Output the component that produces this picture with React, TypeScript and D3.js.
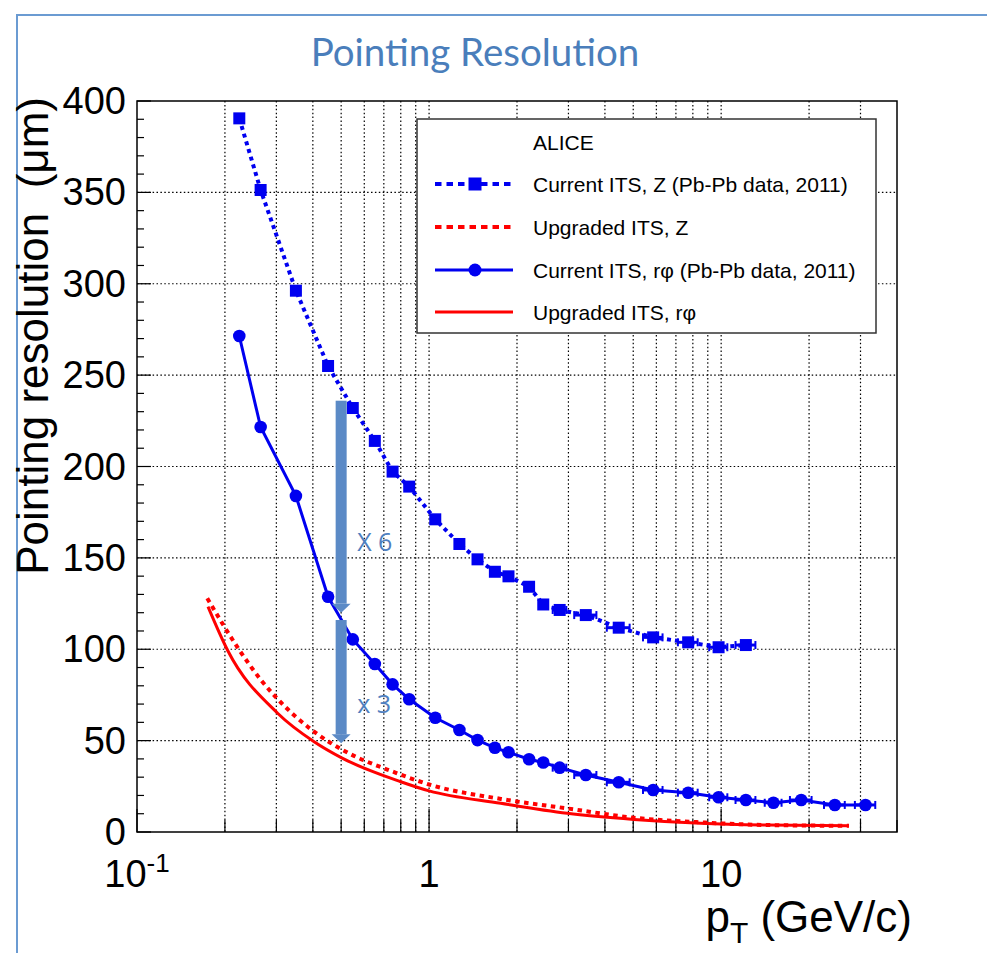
import React from "react";
import * as d3 from "d3";

const width = 987;
const height = 953;
const frame = { left: 137, right: 897, top: 101, bottom: 832 };

// pT bin centres (GeV/c)
const ptBins = [
  0.224, 0.265, 0.35, 0.451, 0.548, 0.652, 0.75, 0.855, 1.05, 1.27, 1.465,
  1.68, 1.87, 2.2, 2.46, 2.8, 3.44, 4.46, 5.85, 7.71, 9.8, 12.15, 15.1, 18.8,
  24.5, 31.2,
];
// horizontal half widths of the error bars (GeV/c)
const ptErr = [
  0, 0, 0, 0, 0, 0, 0, 0, 0, 0, 0, 0, 0, 0, 0.08, 0.15, 0.3, 0.4, 0.45, 0.6,
  0.7, 0.95, 1.0, 1.6, 2.0, 2.5,
];
// current ITS, z (Pb-Pb 2011)
const currentZ = [
  390.5, 351.3, 296.2, 255, 232, 214, 197.2, 189, 171.1, 157.6, 149.2, 142.4,
  139.9, 134.2, 124.5, 121.5, 118.7, 111.8, 106.5, 103.8, 101.1, 102.3,
];
// current ITS, r-phi (Pb-Pb 2011)
const currentRphi = [
  271.4, 221.6, 183.9, 128.7, 105.4, 91.9, 80.8, 72.6, 62.5, 55.8, 50.3, 46.1,
  43.6, 39.8, 38.0, 35.2, 31.2, 27.2, 23.0, 21.5, 19.0, 17.5, 16.0, 17.5, 14.8,
  14.8,
];

// upgraded ITS curves
const upgradedZPt = [
  0.174, 0.224, 0.266, 0.3, 0.404, 0.506, 0.77, 1.0, 1.76, 2.97, 5.03, 8.5,
  14.4, 27.4,
];
const upgradedZ = [
  127.9, 99.6, 83.1, 73.5, 54.9, 44.9, 32.4, 26, 18.1, 12.9, 7.8, 5.3, 3.8,
  3.4,
];
const upgradedRphiPt = [
  0.175, 0.204, 0.303, 0.404, 0.506, 0.8, 1.0, 1.76, 2.97, 5.03, 8.5, 14.4,
  27.4,
];
const upgradedRphi = [
  123.3, 99.6, 65, 49.4, 40.3, 27.5, 22.5, 15.7, 10.2, 6.9, 4.8, 3.8, 3.4,
];

const yTickValues = d3.range(0, 401, 10);
const yLabels = [0, 50, 100, 150, 200, 250, 300, 350, 400];

const arrowPt = 0.5;
const arrowFrom = [236, 116];
const arrowTo = [120, 48.5];
const arrowLabels = ["X 6", "x 3"];
const arrowLabelAt = [153.5, 65];

const legendEntries = [
  "Current ITS, Z (Pb-Pb data, 2011)",
  "Upgraded ITS, Z",
  "Current ITS, r\u03c6 (Pb-Pb data, 2011)",
  "Upgraded ITS, r\u03c6",
];

const blue = "#0000f0";
const red = "#ff0000";
const arrowBlue = "#5b8ac6";
const font = "'Liberation Sans', Arial, Helvetica, sans-serif";

export default function App() {
  const x = d3
    .scaleLog()
    .domain([0.1, 40])
    .range([frame.left, frame.right]);
  const y = d3
    .scaleLinear()
    .domain([0, 400])
    .range([frame.bottom, frame.top]);

  const xTicks = x.ticks();
  const isDecade = (v: number) =>
    Math.abs(Math.log10(v) - Math.round(Math.log10(v))) < 1e-6;

  const pointLine = d3
    .line<[number, number]>()
    .x((d) => x(d[0]))
    .y((d) => y(d[1]));
  const smoothLine = d3
    .line<[number, number]>()
    .x((d) => x(d[0]))
    .y((d) => y(d[1]))
    .curve(d3.curveMonotoneX);

  const zPts: [number, number][] = currentZ.map((v, i) => [ptBins[i], v]);
  const rPts: [number, number][] = currentRphi.map((v, i) => [ptBins[i], v]);
  const upZ: [number, number][] = upgradedZ.map((v, i) => [upgradedZPt[i], v]);
  const upR: [number, number][] = upgradedRphi.map((v, i) => [
    upgradedRphiPt[i],
    v,
  ]);

  const errBars = (pts: [number, number][]) =>
    pts.map((d, i) =>
      ptErr[i] > 0 ? (
        <g key={"e" + i}>
          <line
            x1={x(d[0] - ptErr[i])}
            x2={x(d[0] + ptErr[i])}
            y1={y(d[1])}
            y2={y(d[1])}
            stroke={blue}
            strokeWidth={3}
          />
          <line
            x1={x(d[0] - ptErr[i])}
            x2={x(d[0] - ptErr[i])}
            y1={y(d[1]) - 4}
            y2={y(d[1]) + 4}
            stroke={blue}
            strokeWidth={2}
          />
          <line
            x1={x(d[0] + ptErr[i])}
            x2={x(d[0] + ptErr[i])}
            y1={y(d[1]) - 4}
            y2={y(d[1]) + 4}
            stroke={blue}
            strokeWidth={2}
          />
        </g>
      ) : null
    );

  const legendX1 = 435;
  const legendX2 = 513;
  const legendMid = 475;
  const legendRowY = [184, 227, 270, 312];

  return (
    <svg
      width={width}
      height={height}
      style={{ position: "absolute", left: 0, top: 0, background: "#fff" }}
      fontFamily={font}
    >
      <rect x={17} y={15} width={1000} height={1000} fill="none" stroke="#6b9bd2" strokeWidth={2} />

      <text
        x={475}
        y={66}
        textAnchor="middle"
        fontFamily="Lato, 'Open Sans', sans-serif"
        fontWeight={400}
        fontSize={38.5}
        fill="#4a7ebb"
      >
        Pointing Resolution
      </text>

      {/* grid */}
      <g stroke="#000" strokeWidth={1.2} strokeDasharray="1.5,2.4">
        {xTicks
          .filter((v) => v > 0.1 && v < 40)
          .map((v, i) => (
            <line key={"gx" + i} x1={x(v)} x2={x(v)} y1={frame.top} y2={frame.bottom} />
          ))}
        {yLabels
          .filter((v) => v > 0 && v < 400)
          .map((v) => (
            <line key={"gy" + v} x1={frame.left} x2={frame.right} y1={y(v)} y2={y(v)} />
          ))}
      </g>

      {/* ticks */}
      <g stroke="#000" strokeWidth={1.2}>
        {xTicks.map((v, i) => (
          <line
            key={"tx" + i}
            x1={x(v)}
            x2={x(v)}
            y1={frame.bottom}
            y2={frame.bottom - (isDecade(v) ? 23 : 12)}
          />
        ))}
        {yTickValues.map((v) => (
          <line
            key={"ty" + v}
            x1={frame.left}
            x2={frame.left + (v % 50 === 0 ? 14 : 7)}
            y1={y(v)}
            y2={y(v)}
          />
        ))}
      </g>

      {/* y labels */}
      {yLabels.map((v) => (
        <text key={"yl" + v} x={126} y={y(v) + 13} textAnchor="end" fontSize={38} fill="#000">
          {v}
        </text>
      ))}

      {/* x labels */}
      <text x={x(0.1)} y={887} textAnchor="middle" fontSize={38}>
        10
        <tspan fontSize={26} dy={-15}>
          -1
        </tspan>
      </text>
      <text x={x(1)} y={887} textAnchor="middle" fontSize={38}>
        1
      </text>
      <text x={x(10)} y={887} textAnchor="middle" fontSize={38}>
        10
      </text>

      {/* axis titles */}
      <text x={912} y={932} textAnchor="end" fontSize={44}>
        p
        <tspan fontSize={30} dy={11}>
          T
        </tspan>
        <tspan dy={-11}> (GeV/c)</tspan>
      </text>
      <text
        transform="translate(48,97) rotate(-90)"
        textAnchor="end"
        fontSize={44}
        xmlSpace="preserve"
      >
        Pointing resolution  ({"\u03bc"}m)
      </text>

      {/* upgraded curves */}
      <path d={smoothLine(upR) || ""} fill="none" stroke={red} strokeWidth={3} />
      <path
        d={smoothLine(upZ) || ""}
        fill="none"
        stroke={red}
        strokeWidth={4}
        strokeDasharray="4.5,4.5"
      />

      {/* current z */}
      <path
        d={pointLine(zPts) || ""}
        fill="none"
        stroke={blue}
        strokeWidth={4}
        strokeDasharray="4,4"
      />
      {errBars(zPts)}
      {zPts.map((d, i) => (
        <rect key={"z" + i} x={x(d[0]) - 6} y={y(d[1]) - 6} width={12} height={12} fill={blue} />
      ))}

      {/* current r-phi */}
      <path d={pointLine(rPts) || ""} fill="none" stroke={blue} strokeWidth={3} />
      {errBars(rPts)}
      {rPts.map((d, i) => (
        <circle key={"r" + i} cx={x(d[0])} cy={y(d[1])} r={6.3} fill={blue} />
      ))}

      {/* arrows */}
      {arrowFrom.map((from, i) => {
        const cx = x(arrowPt);
        const yTop = y(from);
        const yTip = y(arrowTo[i]);
        const headH = 9;
        return (
          <g key={"a" + i}>
            <rect x={cx - 5.5} y={yTop} width={11} height={yTip - yTop - headH} fill={arrowBlue} />
            <path
              d={`M${cx - 9.5},${yTip - headH} L${cx + 9.5},${yTip - headH} L${cx},${yTip} Z`}
              fill={arrowBlue}
            />
            <text
              x={cx + 16}
              y={y(arrowLabelAt[i])}
              fontSize={25}
              fill="#4f80c0"
              fontFamily="'Open Sans', 'Liberation Sans', sans-serif"
            >
              {arrowLabels[i]}
            </text>
          </g>
        );
      })}

      {/* frame */}
      <rect
        x={frame.left}
        y={frame.top}
        width={frame.right - frame.left}
        height={frame.bottom - frame.top}
        fill="none"
        stroke="#000"
        strokeWidth={1.5}
      />

      {/* legend */}
      <g>
        <rect x={417} y={119} width={459} height={214} fill="#fff" stroke="#333" strokeWidth={1.5} />
        <text x={533} y={150} fontSize={21}>
          ALICE
        </text>
        {legendEntries.map((label, i) => (
          <text key={"lt" + i} x={533} y={legendRowY[i] + 8} fontSize={21}>
            {label}
          </text>
        ))}
        <line
          x1={legendX1}
          x2={legendX2}
          y1={legendRowY[0]}
          y2={legendRowY[0]}
          stroke={blue}
          strokeWidth={4}
          strokeDasharray="6.5,5"
        />
        <rect x={legendMid - 6.5} y={legendRowY[0] - 6.5} width={13} height={13} fill={blue} />
        <line
          x1={legendX1}
          x2={legendX2}
          y1={legendRowY[1]}
          y2={legendRowY[1]}
          stroke={red}
          strokeWidth={4}
          strokeDasharray="6.5,5"
        />
        <line
          x1={legendX1}
          x2={legendX2}
          y1={legendRowY[2]}
          y2={legendRowY[2]}
          stroke={blue}
          strokeWidth={3}
        />
        <circle cx={legendMid} cy={legendRowY[2]} r={6.5} fill={blue} />
        <line
          x1={legendX1}
          x2={legendX2}
          y1={legendRowY[3]}
          y2={legendRowY[3]}
          stroke={red}
          strokeWidth={3}
        />
      </g>
    </svg>
  );
}
